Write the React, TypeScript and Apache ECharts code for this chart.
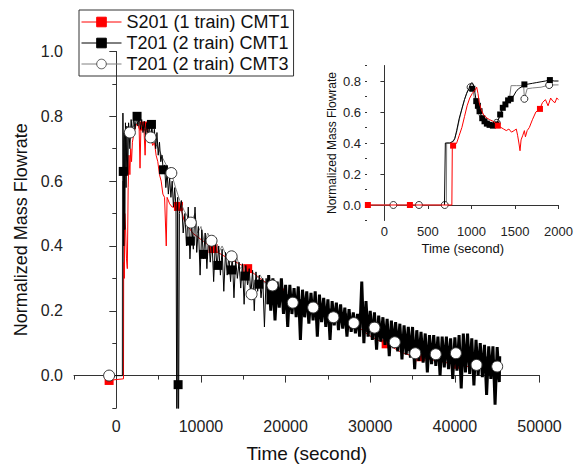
import React, { useEffect, useRef } from "react";
import * as echarts from "echarts";

const FONT = "'Liberation Sans', Arial, Helvetica, sans-serif";

const legendNames = ["S201 (1 train) CMT1", "T201 (2 train) CMT1", "T201 (2 train) CMT3"];
const xTitle = "Time (second)";
const yTitle = "Normalized Mass Flowrate";

const mainXTicks = [0, 10000, 20000, 30000, 40000, 50000];
const mainYTicks = [0, 0.2, 0.4, 0.6, 0.8, 1.0];
const insetXTicks = [0, 500, 1000, 1500, 2000];
const insetYTicks = [0, 0.2, 0.4, 0.6, 0.8];

// ---------- main plot: S201 (1 train) CMT1 ----------
const s201Line = [
  [-1000, -0.015], [850, -0.01], [880, 0.55], [950, 0.3], [1000, 0.5], [1100, 0.45], [1200, 0.36], [1300, 0.33],
  [1400, 0.58], [1500, 0.68], [1600, 0.62], [1700, 0.7], [1800, 0.66], [1900, 0.72], [2100, 0.75], [2300, 0.77],
  [2500, 0.78], [2700, 0.76], [2800, 0.64], [2900, 0.76], [3100, 0.77], [3250, 0.77], [3400, 0.68], [3500, 0.76],
  [3800, 0.74], [4100, 0.73], [4300, 0.71], [4500, 0.72], [4700, 0.68], [4900, 0.66], [5100, 0.62], [5300, 0.6],
  [5500, 0.56], [5700, 0.55], [5900, 0.4], [6000, 0.55], [6300, 0.53], [6600, 0.52], [7000, 0.52], [7340, 0.522],
  [7600, 0.52], [8000, 0.48], [8500, 0.46], [9000, 0.44], [9500, 0.43], [10000, 0.42], [10500, 0.41], [11000, 0.4],
  [11430, 0.392], [12000, 0.38], [13000, 0.365], [14000, 0.352], [15000, 0.338], [15520, 0.33], [16000, 0.32],
  [17000, 0.3], [18000, 0.28], [19000, 0.265], [19610, 0.255], [20000, 0.248], [21000, 0.235], [22000, 0.225],
  [23000, 0.215], [23700, 0.21], [24500, 0.205], [25200, 0.2], [26000, 0.185], [27000, 0.17], [27790, 0.16],
  [28936, 0.143], [29800, 0.125], [30700, 0.112], [31880, 0.098], [32800, 0.085], [33650, 0.072], [34800, 0.062],
  [35970, 0.058], [37000, 0.05], [38500, 0.042], [40060, 0.035], [41000, 0.03], [42500, 0.025], [44150, 0.018],
  [45200, 0.012],
];
const s201Markers = [
  [-850, -0.015], [3250, 0.77], [7340, 0.522], [11430, 0.392], [15520, 0.33], [19610, 0.255], [23700, 0.21],
  [27790, 0.16], [31880, 0.098], [35970, 0.058], [40060, 0.035], [44150, 0.018],
];

// ---------- main plot: T201 (2 train) CMT1 ----------
const t201c1Early = [
  [-1000, 0], [760, 0], [780, 0.81], [830, 0.62], [880, 0.4], [930, 0.75], [1000, 0.45], [1080, 0.78], [1150, 0.58],
  [1250, 0.77], [1350, 0.62], [1450, 0.78], [1600, 0.7], [1750, 0.79], [1900, 0.74], [2050, 0.8], [2200, 0.76],
  [2400, 0.8], [2550, 0.77], [2700, 0.8], [2850, 0.76], [3000, 0.79], [3150, 0.75], [3300, 0.785], [3450, 0.74],
  [3600, 0.78], [3750, 0.73], [3900, 0.775], [4050, 0.72], [4200, 0.77], [4350, 0.72], [4500, 0.76], [4650, 0.7],
  [4800, 0.75], [4950, 0.68], [5100, 0.72], [5250, 0.66], [5400, 0.68], [5550, 0.63], [5700, 0.65], [5850, 0.58],
  [6000, 0.63], [6150, 0.56], [6300, 0.61], [6450, 0.55], [6600, 0.6], [6750, 0.52], [6900, 0.58], [7050, 0.52],
  [7150, -0.2], [7250, 0.55], [7300, -0.028], [7350, -0.2], [7450, 0.5], [7500, 0.5], [7700, 0.54], [7900, 0.44],
  [8100, 0.5], [8300, 0.4], [8500, 0.52], [8700, 0.36], [8900, 0.47], [9100, 0.39], [9300, 0.52], [9500, 0.38],
  [9700, 0.46], [9900, 0.31], [10100, 0.45], [10300, 0.36], [10500, 0.44], [10700, 0.33], [10900, 0.43],
  [11100, 0.35], [11300, 0.42], [11500, 0.29], [11700, 0.41], [11900, 0.33], [12100, 0.4], [12300, 0.31],
  [12500, 0.39], [12700, 0.26], [12900, 0.38], [13100, 0.31], [13300, 0.37], [13500, 0.29], [13700, 0.37],
  [13900, 0.24], [14100, 0.36], [14300, 0.3], [14500, 0.35], [14700, 0.27], [14900, 0.345], [15100, 0.22],
  [15300, 0.34], [15500, 0.28], [15700, 0.33], [15900, 0.25], [16100, 0.325], [16300, 0.2], [16500, 0.32],
  [16700, 0.26], [16900, 0.31], [17100, 0.24], [17300, 0.3], [17500, 0.15], [17700, 0.3], [17900, 0.22],
];
const t201c1Band = [
  [17900, 0.22], [18000, 0.31], [18250, 0.2], [18500, 0.3], [18750, 0.17], [19000, 0.29], [19250, 0.21], [19500, 0.3],
  [19750, 0.19], [20000, 0.28], [20250, 0.15], [20500, 0.28], [20750, 0.19], [21000, 0.27], [21250, 0.18],
  [21500, 0.275], [21750, 0.11], [22000, 0.265], [22250, 0.18], [22500, 0.26], [22750, 0.16], [23000, 0.255],
  [23250, 0.17], [23500, 0.26], [23750, 0.12], [24000, 0.25], [24250, 0.165], [24500, 0.24], [24750, 0.15],
  [25000, 0.235], [25250, 0.11], [25500, 0.23], [25750, 0.155], [26000, 0.225], [26250, 0.14], [26500, 0.22],
  [26750, 0.145], [27000, 0.21], [27250, 0.12], [27500, 0.205], [27750, 0.135], [28000, 0.195], [28250, 0.13],
  [28500, 0.19], [28750, 0.12], [29000, 0.29], [29250, 0.1], [29500, 0.23], [29750, 0.12], [30000, 0.2],
  [30250, 0.11], [30500, 0.195], [30750, 0.08], [31000, 0.185], [31250, 0.105], [31500, 0.18], [31750, 0.095],
  [32000, 0.175], [32250, 0.06], [32500, 0.17], [32750, 0.085], [33000, 0.165], [33250, 0.075], [33500, 0.16],
  [33750, 0.05], [34000, 0.155], [34250, 0.065], [34500, 0.15], [34750, 0.055], [35000, 0.15], [35250, 0.02],
  [35500, 0.14], [35750, 0.045], [36000, 0.135], [36250, 0.04], [36500, 0.13], [36750, 0.01], [37000, 0.125],
  [37250, 0.035], [37500, 0.125], [37750, 0.03], [38000, 0.12], [38250, 0.0], [38500, 0.12], [38750, 0.025],
  [39000, 0.12], [39250, 0.02], [39500, 0.115], [39750, -0.01], [40000, 0.118], [40250, 0.015], [40500, 0.125],
  [40750, -0.04], [41000, 0.13], [41250, 0.01], [41500, 0.13], [41750, 0.005], [42000, 0.115], [42250, -0.03],
  [42500, 0.11], [42750, 0.0], [43000, 0.1], [43250, -0.005], [43500, 0.095], [43750, -0.06], [44000, 0.09],
  [44250, -0.01], [44500, 0.09], [44750, -0.09], [45000, 0.088], [45250, -0.02], [45300, 0.06],
];
const t201c1Markers = [
  [820, 0.63], [2450, 0.8], [4150, 0.775], [5570, 0.635], [7300, -0.028], [8750, 0.415], [10300, 0.374],
  [12000, 0.34], [13620, 0.326], [15200, 0.307], [16850, 0.282], [18500, 0.256], [20150, 0.237], [21800, 0.222],
  [23450, 0.208], [25100, 0.193], [26750, 0.178], [28400, 0.162], [30050, 0.148], [31700, 0.128], [33350, 0.108],
  [35000, 0.09], [36650, 0.078], [38300, 0.068], [39950, 0.06], [41600, 0.055], [43250, 0.045], [44900, 0.035],
];

// ---------- main plot: T201 (2 train) CMT3 ----------
const t201c3Line = [
  [-1000, 0], [700, 0], [730, 0.6], [800, 0.35], [850, 0.72], [1000, 0.74], [1300, 0.76], [1600, 0.75], [2000, 0.77],
  [2500, 0.78], [3000, 0.77], [3500, 0.76], [4050, 0.735], [4500, 0.72], [5000, 0.7], [5500, 0.67], [6000, 0.645],
  [6500, 0.625], [7000, 0.58], [7500, 0.54], [8000, 0.51], [8800, 0.472], [9300, 0.5], [9600, 0.44], [10000, 0.46],
  [10400, 0.41], [10800, 0.44], [11250, 0.416], [11700, 0.42], [12100, 0.38], [12500, 0.4], [13000, 0.37],
  [13620, 0.368], [14200, 0.37], [14600, 0.33], [15000, 0.34], [15500, 0.3], [15980, 0.251], [16500, 0.3],
  [17000, 0.31], [17500, 0.285], [18000, 0.3], [18450, 0.278], [19000, 0.27], [20000, 0.25], [20850, 0.225],
  [22000, 0.225], [23260, 0.21], [24500, 0.2], [25650, 0.18], [27000, 0.175], [28060, 0.162], [29000, 0.16],
  [30500, 0.148], [31700, 0.125], [32900, 0.103], [34000, 0.085], [35320, 0.069], [36500, 0.07], [37740, 0.066],
  [39000, 0.068], [40120, 0.069], [41300, 0.05], [42560, 0.033], [43800, 0.035], [45000, 0.028],
];
const t201c3Markers = [
  [-850, 0.0], [1600, 0.75], [4050, 0.735], [6500, 0.625], [8800, 0.472], [11250, 0.416], [13620, 0.368],
  [15980, 0.251], [18450, 0.278], [20850, 0.225], [23260, 0.21], [25650, 0.18], [28060, 0.162], [30500, 0.148],
  [32900, 0.103], [35320, 0.069], [37740, 0.066], [40120, 0.069], [42560, 0.033], [45000, 0.028],
];

// ---------- inset (0-2000 s) ----------
const insetS201Line = [
  [-200, 0], [775, 0], [780, 0.38], [800, 0.38], [830, 0.4], [860, 0.45], [890, 0.5], [920, 0.57], [950, 0.64],
  [980, 0.69], [1010, 0.72], [1040, 0.74], [1060, 0.76], [1075, 0.72], [1090, 0.66], [1110, 0.62], [1140, 0.58],
  [1180, 0.56], [1210, 0.55], [1250, 0.54], [1303, 0.512], [1340, 0.5], [1370, 0.49], [1400, 0.48], [1430, 0.49],
  [1460, 0.47], [1490, 0.48], [1515, 0.49], [1530, 0.45], [1545, 0.4], [1558, 0.35], [1570, 0.42], [1590, 0.45],
  [1608, 0.48], [1620, 0.44], [1640, 0.48], [1665, 0.5], [1700, 0.55], [1740, 0.6], [1787, 0.62], [1815, 0.66],
  [1850, 0.68], [1880, 0.64], [1910, 0.69], [1935, 0.67], [1960, 0.66], [1980, 0.69], [2000, 0.68],
];
const insetS201Markers = [[-190, 0], [293, 0], [789, 0.383], [1303, 0.512], [1787, 0.62]];

const insetT201c1Line = [
  [690, 0], [700, 0.4], [750, 0.4], [790, 0.41], [810, 0.43], [830, 0.48], [860, 0.56], [890, 0.62], [920, 0.68],
  [945, 0.72], [970, 0.75], [990, 0.78], [1005, 0.79], [1020, 0.78], [1035, 0.74], [1055, 0.67], [1074, 0.64],
  [1093, 0.605], [1124, 0.56], [1150, 0.54], [1177, 0.525], [1208, 0.517], [1246, 0.512], [1284, 0.52],
  [1310, 0.55], [1330, 0.584], [1360, 0.627], [1390, 0.649], [1421, 0.675], [1451, 0.685], [1480, 0.7],
  [1510, 0.73], [1540, 0.75], [1570, 0.76], [1608, 0.778], [1650, 0.78], [1700, 0.785], [1750, 0.79],
  [1800, 0.795], [1850, 0.8], [1901, 0.806], [1950, 0.8], [2000, 0.8],
];
const insetT201c1Markers = [
  [1010, 0.75], [1055, 0.67], [1074, 0.64], [1093, 0.605], [1124, 0.56], [1150, 0.54], [1177, 0.525],
  [1208, 0.517], [1246, 0.512], [1284, 0.52], [1330, 0.584], [1360, 0.627], [1390, 0.649], [1421, 0.675],
  [1451, 0.685], [1608, 0.778], [1901, 0.806],
];

const insetT201c3Line = [
  [-200, 0], [103, 0], [397, 0], [712, 0], [715, 0.4], [760, 0.4], [800, 0.42], [830, 0.47], [860, 0.55],
  [890, 0.62], [920, 0.68], [950, 0.73], [980, 0.76], [995, 0.77], [1010, 0.76], [1030, 0.7], [1050, 0.64],
  [1080, 0.59], [1110, 0.55], [1150, 0.53], [1200, 0.52], [1250, 0.515], [1290, 0.53], [1320, 0.57], [1350, 0.61],
  [1380, 0.64], [1410, 0.66], [1440, 0.7], [1455, 0.77], [1520, 0.77], [1600, 0.77], [1608, 0.685], [1640, 0.75],
  [1700, 0.755], [1800, 0.76], [1893, 0.774], [2000, 0.775],
];
const insetT201c3Markers = [[103, 0], [397, 0], [693, 0], [990, 0.76], [1290, 0.53], [1608, 0.685], [1893, 0.774]];

const RED = "#ff0000";
const BLACK = "#000000";
const GREY = "#808080";
const AXIS = "#333333";

function buildOption() {
  const tickLabel = (size: number) => ({ fontFamily: FONT, fontSize: size, color: "#222" });
  const hiddenMinor = (extra: any) => ({
    type: "value",
    axisLine: { show: false },
    axisLabel: { show: false },
    splitLine: { show: false },
    ...extra,
  });

  return {
    animation: false,
    backgroundColor: "#ffffff",
    legend: {
      data: legendNames,
      orient: "vertical",
      left: 79,
      top: 10,
      itemWidth: 40,
      itemHeight: 12,
      itemGap: 3,
      padding: [3, 4, 3, 2],
      borderColor: AXIS,
      borderWidth: 1,
      selectedMode: false,
      itemStyle: { borderWidth: 1 },
      lineStyle: { width: 1 },
      textStyle: { fontFamily: FONT, fontSize: 18, color: "#111" },
    },
    grid: [
      { left: 74, right: 37.5, top: 51.5, bottom: 59 },
      { left: 367, right: 18.5, top: 65.5, bottom: 247.5 },
    ],
    xAxis: [
      {
        type: "value",
        gridIndex: 0,
        position: "bottom",
        min: -5000,
        max: 50000,
        interval: 5000,
        name: xTitle,
        nameLocation: "middle",
        nameGap: 36,
        nameTextStyle: { fontFamily: FONT, fontSize: 19, color: "#111" },
        axisLine: { lineStyle: { color: AXIS, width: 1 } },
        axisTick: { customValues: mainXTicks, length: 7, lineStyle: { color: AXIS } },
        axisLabel: { customValues: mainXTicks, margin: 10, formatter: (v: number) => String(v), ...tickLabel(16) },
        splitLine: { show: false },
      },
      hiddenMinor({
        gridIndex: 0,
        position: "bottom",
        min: -5000,
        max: 50000,
        interval: 5000,
        axisTick: { length: 4, lineStyle: { color: AXIS } },
      }),
      {
        type: "value",
        gridIndex: 1,
        position: "bottom",
        min: -200,
        max: 2000,
        name: xTitle,
        nameLocation: "middle",
        nameGap: 21,
        nameTextStyle: { fontFamily: FONT, fontSize: 13, color: "#111" },
        axisLine: { lineStyle: { color: AXIS, width: 1 } },
        axisTick: { customValues: insetXTicks, length: 4, lineStyle: { color: AXIS } },
        axisLabel: { customValues: insetXTicks, margin: 4, formatter: (v: number) => String(v), ...tickLabel(13) },
        splitLine: { show: false },
      },
    ],
    yAxis: [
      {
        type: "value",
        gridIndex: 0,
        position: "left",
        min: -0.1,
        max: 1.0,
        interval: 0.1,
        name: yTitle,
        nameLocation: "middle",
        nameGap: 43,
        nameTextStyle: { fontFamily: FONT, fontSize: 18, color: "#111" },
        axisLine: { show: true, lineStyle: { color: AXIS, width: 1 } },
        axisTick: { show: true, customValues: mainYTicks, length: 7, lineStyle: { color: AXIS } },
        axisLabel: { customValues: mainYTicks, margin: 11, formatter: (v: number) => v.toFixed(1), ...tickLabel(16) },
        splitLine: { show: false },
      },
      hiddenMinor({
        gridIndex: 0,
        position: "left",
        min: -0.1,
        max: 1.0,
        interval: 0.1,
        axisTick: { show: true, length: 4, lineStyle: { color: AXIS } },
      }),
      {
        type: "value",
        gridIndex: 1,
        position: "left",
        min: -0.1,
        max: 0.9,
        interval: 0.1,
        name: yTitle,
        nameLocation: "middle",
        nameGap: 29,
        nameTextStyle: { fontFamily: FONT, fontSize: 12, color: "#111" },
        axisLine: { show: true, lineStyle: { color: AXIS, width: 1 } },
        axisTick: { show: true, customValues: insetYTicks, length: 4, lineStyle: { color: AXIS } },
        axisLabel: { customValues: insetYTicks, margin: 6, formatter: (v: number) => v.toFixed(1), ...tickLabel(13) },
        splitLine: { show: false },
      },
      hiddenMinor({
        gridIndex: 1,
        position: "left",
        min: -0.1,
        max: 0.9,
        interval: 0.1,
        axisTick: { show: true, length: 2, lineStyle: { color: AXIS } },
      }),
    ],
    series: [
      // main plot
      {
        name: legendNames[0], type: "line", xAxisIndex: 0, yAxisIndex: 0, data: s201Line,
        symbol: "rect", showSymbol: false, lineStyle: { color: RED, width: 1 },
        itemStyle: { color: RED, borderColor: RED, borderWidth: 1 }, z: 2,
      },
      {
        name: "S201 markers", type: "scatter", xAxisIndex: 0, yAxisIndex: 0, data: s201Markers,
        symbol: "rect", symbolSize: 9, itemStyle: { color: RED, opacity: 1 }, z: 3,
      },
      {
        name: legendNames[2], type: "line", xAxisIndex: 0, yAxisIndex: 0, data: t201c3Line,
        symbol: "circle", showSymbol: false, lineStyle: { color: GREY, width: 1 },
        itemStyle: { color: "#ffffff", borderColor: "#555555", borderWidth: 1 }, z: 4,
      },
      {
        name: legendNames[1], type: "line", xAxisIndex: 0, yAxisIndex: 0, data: t201c1Early,
        symbol: "rect", showSymbol: false, lineStyle: { color: BLACK, width: 1 },
        itemStyle: { color: BLACK, borderColor: BLACK, borderWidth: 1 }, z: 5,
      },
      {
        name: "T201 CMT1 band", type: "line", xAxisIndex: 0, yAxisIndex: 0, data: t201c1Band,
        symbol: "rect", showSymbol: false, lineStyle: { color: BLACK, width: 3 }, z: 5,
      },
      {
        name: "T201 CMT1 markers", type: "scatter", xAxisIndex: 0, yAxisIndex: 0, data: t201c1Markers,
        symbol: "rect", symbolSize: 9, itemStyle: { color: BLACK, opacity: 1 }, z: 6,
      },
      {
        name: "T201 CMT3 markers", type: "scatter", xAxisIndex: 0, yAxisIndex: 0, data: t201c3Markers,
        symbol: "circle", symbolSize: 11,
        itemStyle: { color: "#ffffff", borderColor: "#333333", borderWidth: 1, opacity: 1 }, z: 7,
      },
      // inset
      {
        name: "inset CMT3", type: "line", xAxisIndex: 2, yAxisIndex: 2, data: insetT201c3Line,
        showSymbol: false, lineStyle: { color: GREY, width: 1 }, z: 2,
      },
      {
        name: "inset CMT3 markers", type: "scatter", xAxisIndex: 2, yAxisIndex: 2, data: insetT201c3Markers,
        symbol: "circle", symbolSize: 7,
        itemStyle: { color: "#ffffff", borderColor: "#333333", borderWidth: 1, opacity: 1 }, z: 3,
      },
      {
        name: "inset CMT1", type: "line", xAxisIndex: 2, yAxisIndex: 2, data: insetT201c1Line,
        showSymbol: false, lineStyle: { color: BLACK, width: 1 }, z: 4,
      },
      {
        name: "inset CMT1 markers", type: "scatter", xAxisIndex: 2, yAxisIndex: 2, data: insetT201c1Markers,
        symbol: "rect", symbolSize: 6, itemStyle: { color: BLACK, opacity: 1 }, z: 5,
      },
      {
        name: "inset S201", type: "line", xAxisIndex: 2, yAxisIndex: 2, data: insetS201Line,
        showSymbol: false, lineStyle: { color: RED, width: 1 }, z: 6,
      },
      {
        name: "inset S201 markers", type: "scatter", xAxisIndex: 2, yAxisIndex: 2, data: insetS201Markers,
        symbol: "rect", symbolSize: 6, itemStyle: { color: RED, opacity: 1 }, z: 7,
      },
    ],
  };
}

export default function App() {
  const ref = useRef<HTMLDivElement>(null);
  useEffect(() => {
    if (!ref.current) return;
    const chart = echarts.init(ref.current, undefined, { renderer: "svg" });
    chart.setOption(buildOption() as any);
    return () => chart.dispose();
  }, []);
  return <div ref={ref} style={{ width: 577, height: 468, position: "absolute", left: 0, top: 0 }} />;
}
